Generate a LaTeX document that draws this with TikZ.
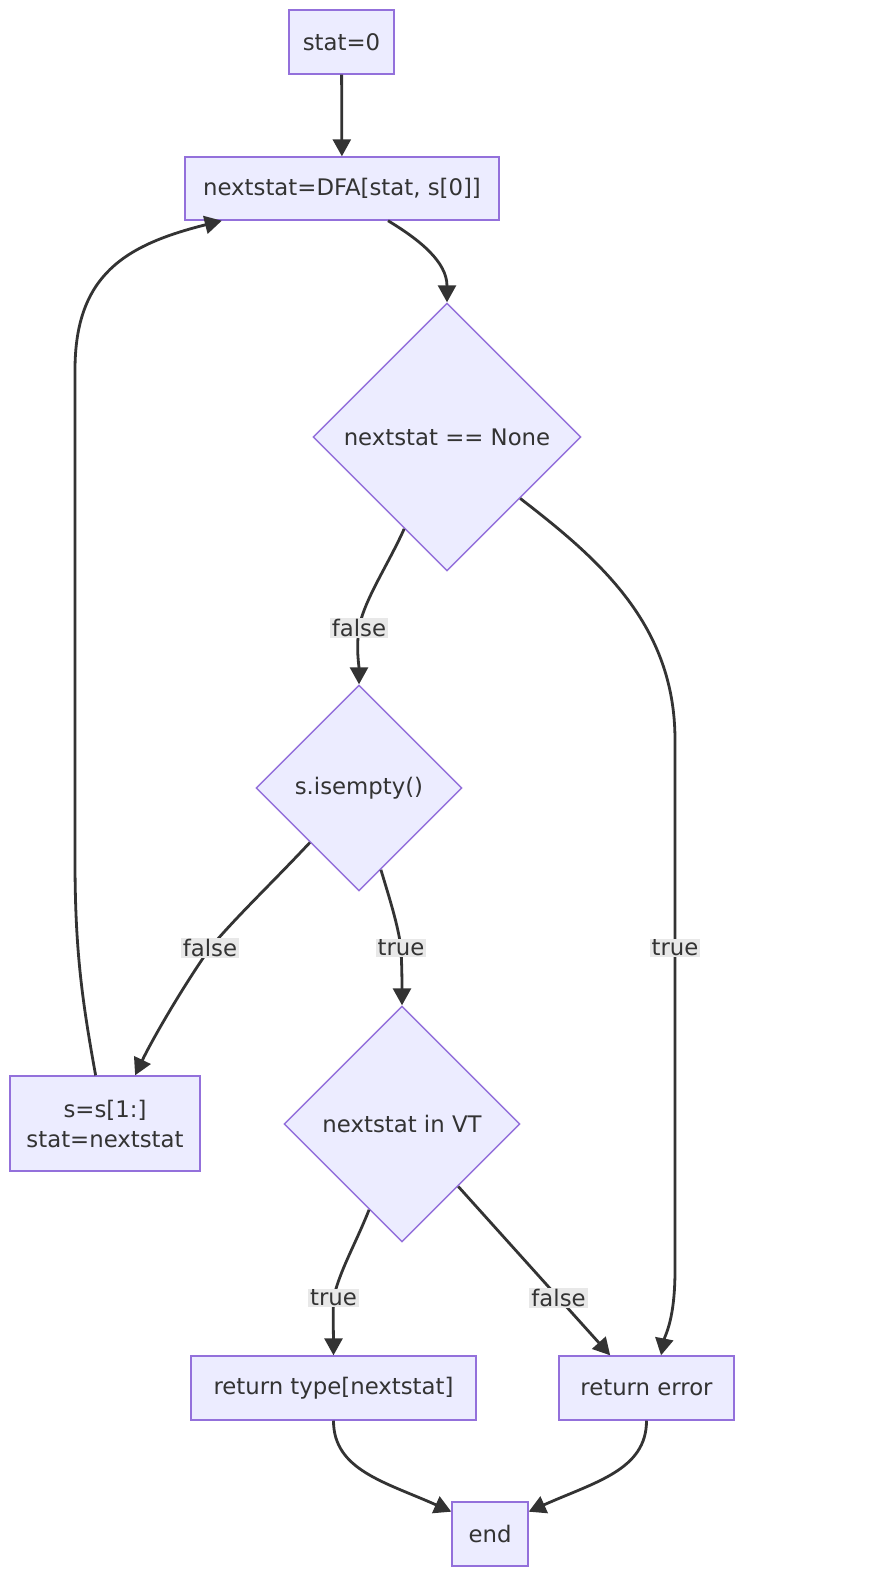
\documentclass[tikz,border=0pt]{standalone}
\usepackage{fontspec}
\setmainfont{DejaVu Sans}
\usetikzlibrary{shapes.geometric,arrows.meta,calc}
\definecolor{nodefill}{HTML}{ECECFF}
\definecolor{nodeline}{HTML}{9370DB}
\definecolor{edgeline}{HTML}{333333}
\definecolor{labelbg}{HTML}{E8E8E8}
\definecolor{textcol}{HTML}{333333}

\begin{document}
\begin{tikzpicture}[x=1pt,y=-1pt,
  txt/.style={font=\fontsize{22.8}{30}\selectfont,text=textcol},
  box/.style={txt,draw=nodeline,fill=nodefill,line width=1.4pt,inner sep=0pt,
    minimum height=64pt,align=center},
  decision/.style={txt,diamond,draw=nodeline,fill=nodefill,line width=1.4pt,inner sep=0pt},
  flow/.style={draw=edgeline,line width=2.8pt,-{Triangle[length=17pt,width=18pt]}},
  elabel/.style={txt,fill=labelbg,inner xsep=2pt,inner ysep=1pt}]

% canvas
\fill[white] (0,0) rectangle (875,1585);
\useasboundingbox (0,0) rectangle (875,1585);

% nodes
\node[box,minimum width=105pt] (s0) at (341.5,42) {stat=0};
\node[box,minimum width=314pt,minimum height=63pt] (dfa) at (342,188.5) {nextstat=DFA[stat, s[0]]};
\node[decision,minimum width=268pt,minimum height=268pt] (d1) at (447,437) {nextstat == None};
\node[decision,minimum width=206pt,minimum height=206pt] (ie) at (359,788) {s.isempty()};
\node[decision,minimum width=236pt,minimum height=236pt] (vt) at (402,1124) {nextstat in VT};
\node[box,minimum width=190pt,minimum height=95pt] (s1) at (105,1123.5) {s=s[1:]\\stat=nextstat};
\node[box,minimum width=285pt] (rt) at (333.5,1388) {return type[nextstat]};
\node[box,minimum width=175pt] (err) at (646.5,1388) {return error};
\node[box,minimum width=76pt] (end) at (490,1534) {end};

% label anchors on the connectors
\coordinate (l1) at (359,628);
\coordinate (l2) at (675,948);
\coordinate (l3) at (210,948);
\coordinate (l4) at (401,948);
\coordinate (l5) at (333.5,1298);

% connectors
\draw[flow] (s0) -- (dfa);
\draw[flow] (dfa.-35) .. controls (420,240) and (447,262) .. (d1.north);
\draw[flow] (d1.245) .. controls (388,565) and (364,600) .. (l1)
  .. controls (356,650) and (359,665) .. (ie.north);
\draw[flow] (d1.-40) .. controls (600,560) and (675,625) .. (675,740)
  -- (l2) -- (675,1270) .. controls (675,1320) and (665,1335) .. (err.66);
\draw[flow] (ie.228) .. controls (270,885) and (238,915) .. (l3)
  .. controls (182,988) and (152,1040) .. (s1.58);
\draw[flow] (ie.-75) .. controls (390,900) and (398,925) .. (l4)
  .. controls (402,970) and (402,985) .. (vt.north);
\draw[flow] (vt.249) .. controls (355,1245) and (340,1270) .. (l5)
  .. controls (333,1320) and (333.5,1340) .. (rt.north);
\draw[flow] (vt.-48) -- (err.138) coordinate[pos=0.66] (l6);
\draw[flow] (s1.101) .. controls (82,1000) and (75,950) .. (75,860)
  -- (75,370) .. controls (75,275) and (125,245) .. (dfa.195);
\draw[flow] (rt.south) .. controls (333.5,1470) and (385,1482) .. (end.150);
\draw[flow] (err.south) .. controls (646.5,1470) and (595,1482) .. (end.30);

% connector labels
\node[elabel] at (l1) {false};
\node[elabel] at (l2) {true};
\node[elabel] at (l3) {false};
\node[elabel] at (l4) {true};
\node[elabel] at (l5) {true};
\node[elabel] at (l6) {false};
\end{tikzpicture}
\end{document}
